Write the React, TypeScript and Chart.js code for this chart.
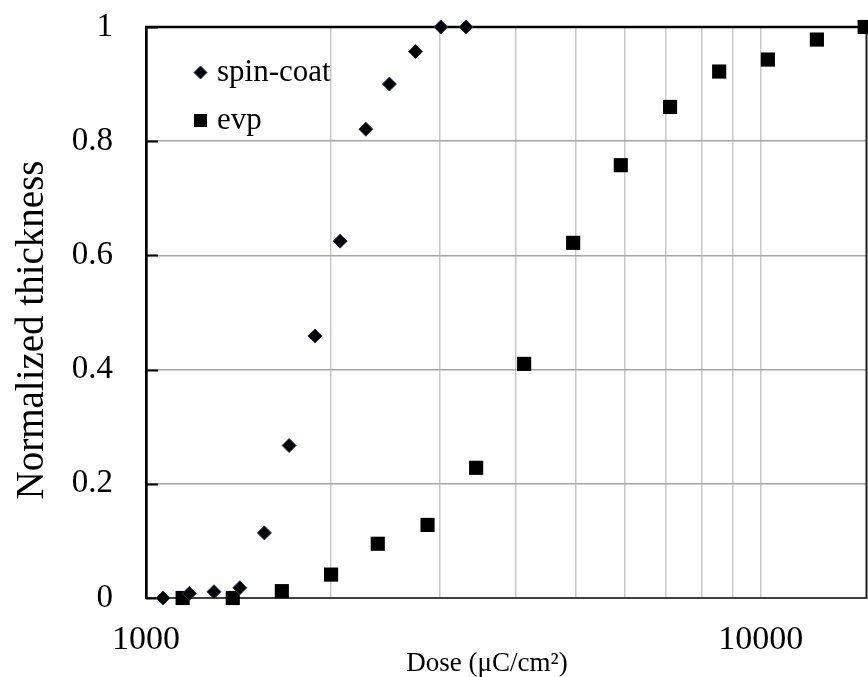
import React, { useEffect, useRef } from "react";
import { Chart, registerables } from "chart.js";

Chart.register(...registerables);

// ---- data ----
const spinDose = [1066, 1176, 1290, 1421, 1558, 1709, 1883, 2069, 2278, 2488, 2743, 3016, 3316];
const spinThick = [0, 0.008, 0.011, 0.018, 0.114, 0.267, 0.459, 0.625, 0.821, 0.9, 0.957, 1, 1];
const evpDose = [1147, 1384, 1663, 2000, 2382, 2870, 3443, 4121, 4951, 5918, 7117, 8554, 10266, 12334, 14750];
const evpThick = [0, 0, 0.012, 0.041, 0.095, 0.128, 0.228, 0.41, 0.622, 0.758, 0.86, 0.922, 0.943, 0.978, 1];
const seriesNames = ["spin-coat", "evp"];
const xGridValues = [1000, 2000, 3000, 4000, 5000, 6000, 7000, 8000, 9000, 10000];
const xLabelValues = [1000, 10000];
const xMin = 1000;
const xMax = 14880;
const yTicks = [0, 0.2, 0.4, 0.6, 0.8, 1];
const xTitle = "Dose (\u03bcC/cm\u00b2)";
const yTitle = "Normalized thickness";

const FONT = "'Liberation Serif', 'Times New Roman', serif";

const zeroPad = (s: any) => {
  s.paddingLeft = 0;
  s.paddingRight = 0;
  s.paddingTop = 0;
  s.paddingBottom = 0;
};

const framePlugin = {
  id: "frame",
  beforeDatasetsDraw(chart: any) {
    const { ctx, chartArea } = chart;
    const { left, right, top, bottom } = chartArea;
    const yScale = chart.scales.y;
    ctx.save();
    // inner y tick marks
    ctx.strokeStyle = "#000";
    ctx.lineWidth = 2;
    yTicks.forEach((v) => {
      const py = Math.round(yScale.getPixelForValue(v)) + 0.5;
      ctx.beginPath();
      ctx.moveTo(left, py);
      ctx.lineTo(left + 12, py);
      ctx.stroke();
    });
    // right border
    ctx.strokeStyle = "#202020";
    ctx.lineWidth = 2;
    ctx.beginPath();
    ctx.moveTo(right - 0.5, top);
    ctx.lineTo(right - 0.5, bottom);
    ctx.stroke();
    // top border
    ctx.strokeStyle = "#000";
    ctx.lineWidth = 2.7;
    ctx.beginPath();
    ctx.moveTo(left - 1, top);
    ctx.lineTo(right, top);
    ctx.stroke();
    ctx.restore();
  },
  afterDraw(chart: any) {
    const { ctx, chartArea } = chart;
    const { left, top } = chartArea;
    ctx.save();
    ctx.fillStyle = "#000";
    // axis titles
    ctx.font = `27px ${FONT}`;
    ctx.textAlign = "center";
    ctx.textBaseline = "alphabetic";
    ctx.fillText(xTitle, 487, 671);
    ctx.save();
    ctx.translate(42.5, 330);
    ctx.rotate(-Math.PI / 2);
    ctx.font = `39px ${FONT}`;
    ctx.fillText(yTitle, 0, 0);
    ctx.restore();

    // legend
    const ds = chart.data.datasets;
    const lx = left + 54.5;
    const rows = [top + 45.5, top + 93.5];
    ctx.font = `31px ${FONT}`;
    ctx.textAlign = "left";
    ctx.textBaseline = "middle";
    ds.forEach((d: any, i: number) => {
      const y = rows[i];
      ctx.fillStyle = "#000";
      ctx.beginPath();
      if (d.pointStyle === "rectRot") {
        const r = 6.5;
        ctx.moveTo(lx - r, y);
        ctx.lineTo(lx, y - r);
        ctx.lineTo(lx + r, y);
        ctx.lineTo(lx, y + r);
        ctx.closePath();
        ctx.fill();
        ctx.strokeStyle = d.borderColor;
        ctx.lineWidth = 1;
        ctx.stroke();
      } else {
        ctx.rect(lx - 6.5, y - 6.5, 13, 13);
        ctx.fill();
      }
      ctx.fillStyle = "#000";
      ctx.fillText(d.label, left + 71, y);
    });
    ctx.restore();
  },
};

export default function App() {
  const ref = useRef<HTMLCanvasElement | null>(null);

  useEffect(() => {
    document.body.style.margin = "0";
    const canvas = ref.current;
    if (!canvas) return;
    const chart = new Chart(canvas, {
      type: "scatter",
      data: {
        datasets: [
          {
            label: seriesNames[0],
            data: spinDose.map((x, i) => ({ x, y: spinThick[i] })),
            pointStyle: "rectRot",
            pointRadius: 7,
            pointHoverRadius: 7,
            backgroundColor: "#000",
            borderColor: "#1f3864",
            borderWidth: 1,
            clip: false,
          },
          {
            label: seriesNames[1],
            data: evpDose.map((x, i) => ({ x, y: evpThick[i] })),
            pointStyle: "rect",
            pointRadius: 10,
            pointHoverRadius: 10,
            backgroundColor: "#000",
            borderColor: "#000",
            borderWidth: 0,
            clip: false,
          },
        ],
      },
      options: {
        animation: false,
        responsive: false,
        events: [],
        layout: { autoPadding: false, padding: { left: 0, top: 27, right: 1, bottom: 0 } },
        plugins: {
          legend: { display: false },
          tooltip: { enabled: false },
        },
        scales: {
          x: {
            type: "logarithmic",
            min: xMin,
            max: xMax,
            afterBuildTicks: (scale: any) => {
              scale.ticks = xGridValues.map((v) => ({ value: v, major: false }));
            },
            afterFit: (scale: any) => {
              scale.height = 79;
              zeroPad(scale);
            },
            ticks: {
              autoSkip: false,
              maxRotation: 0,
              minRotation: 0,
              padding: 22,
              color: "#000",
              font: { family: FONT, size: 34 },
              callback: (v: any) => (xLabelValues.includes(Number(v)) ? String(v) : ""),
            },
            grid: {
              drawTicks: false,
              color: (c: any) => (c.tick && c.tick.value === xMin ? "rgba(0,0,0,0)" : "#c8c8c8"),
              lineWidth: 1.5,
            },
            border: { display: true, color: "#404040", width: 2 },
          },
          y: {
            type: "linear",
            min: 0,
            max: 1,
            afterBuildTicks: (scale: any) => {
              scale.ticks = yTicks.map((v) => ({ value: v }));
            },
            afterFit: (scale: any) => {
              scale.width = 146;
              zeroPad(scale);
            },
            ticks: {
              padding: 33,
              color: "#000",
              font: { family: FONT, size: 33 },
              callback: (v: any) => String(v),
            },
            grid: {
              drawTicks: false,
              color: (c: any) =>
                c.tick && (c.tick.value === 0 || c.tick.value === 1) ? "rgba(0,0,0,0)" : "#a6a6a6",
              lineWidth: 1.5,
            },
            border: { display: true, color: "#000", width: 2.7 },
          },
        },
      },
      plugins: [framePlugin],
    });
    return () => chart.destroy();
  }, []);

  return (
    <div style={{ position: "absolute", left: 0, top: 0, width: 868, height: 677, background: "#fff" }}>
      <canvas ref={ref} width={868} height={677} style={{ display: "block", width: 868, height: 677 }} />
    </div>
  );
}
